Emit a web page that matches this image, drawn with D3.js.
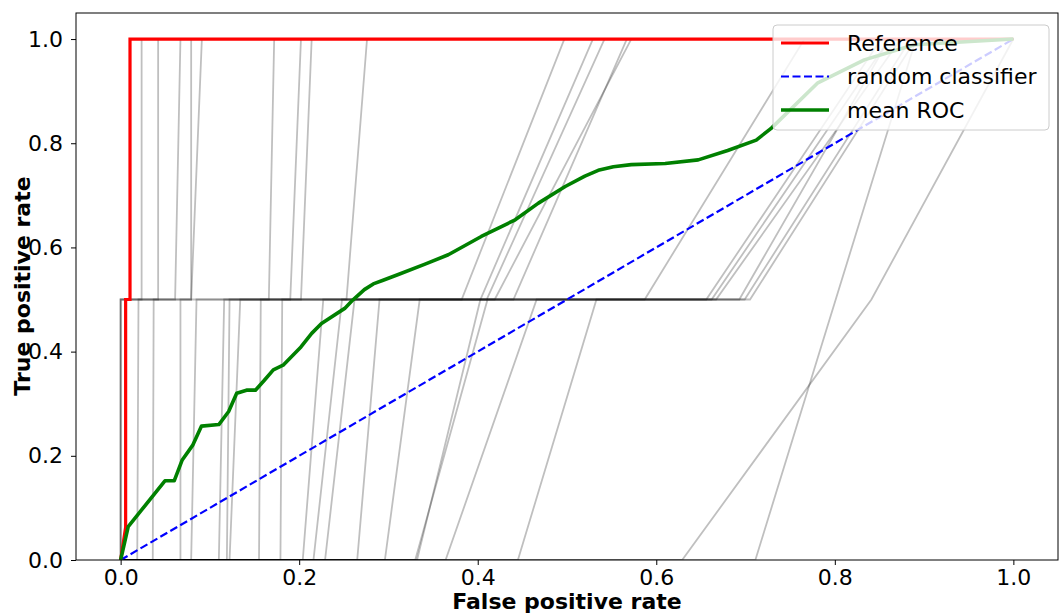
<!DOCTYPE html>
<html>
<head>
<meta charset="utf-8">
<script src="https://cdn.jsdelivr.net/npm/d3@7"></script>
<style>
  body { margin: 0; background: #fff; }
  text { font-family: "DejaVu Sans", sans-serif; }
</style>
</head>
<body>
<svg id="chart" width="1060" height="614"></svg>
<script>
// Each gray ROC curve: (0,0) -> (lowStart,0) -> (lowEnd,0.5) -> (highStart,0.5) -> (highEnd,1) -> (1,1)
const lowStart  = [0, 0, 0, 0.0186, 0.036, 0.067, 0.079, 0.110, 0.119, 0.122, 0.155, 0.179, 0.204, 0.216, 0.229, 0.265, 0.296, 0.330, 0.332, 0.364, 0.445, 0.629, 0.711];
const lowEnd    = [0, 0, 0, 0.020, 0.037, 0.067, 0.085, 0.116, 0.122, 0.134, 0.157, 0.181, 0.227, 0.248, 0.262, 0.290, 0.335, 0.411, 0.403, 0.466, 0.533, 0.841, 0.801];
const highStart = [0.061, 0.079, 0.079, 0.0235, 0.042, 0.166, 0.190, 0.202, 0.253, 0.382, 0.403, 0.410, 0.419, 0.440, 0.587, 0.656, 0.662, 0.667, 0.693, 0.699, 0.705, 0.841, 0.801];
const highEnd   = [0.067, 0.079, 0.091, 0.0235, 0.042, 0.172, 0.202, 0.214, 0.276, 0.497, 0.529, 0.542, 0.572, 0.567, 0.766, 0.852, 0.861, 0.874, 0.861, 0.885, 0.891, 1.0, 0.891];

// reference curve
const refFpr = [0, 0.0056, 0.0056, 0.0105, 0.0105, 1.0];
const refTpr = [0, 0.063, 0.5, 0.5, 1.0, 1.0];

// mean ROC
const meanFpr = [0, 0.0085, 0.0235, 0.0496, 0.060, 0.069, 0.081, 0.0906, 0.110, 0.121, 0.130, 0.141, 0.151, 0.161, 0.171, 0.182, 0.202, 0.214, 0.225, 0.251, 0.260, 0.273, 0.283, 0.294, 0.311, 0.341, 0.367, 0.404, 0.442, 0.468, 0.498, 0.520, 0.535, 0.552, 0.572, 0.610, 0.647, 0.680, 0.712, 0.729, 0.781, 0.833, 0.889, 1.0];
const meanTpr = [0, 0.064, 0.096, 0.152, 0.152, 0.192, 0.221, 0.257, 0.260, 0.285, 0.320, 0.326, 0.326, 0.345, 0.365, 0.374, 0.409, 0.435, 0.454, 0.483, 0.499, 0.519, 0.530, 0.537, 0.548, 0.568, 0.586, 0.621, 0.653, 0.685, 0.717, 0.737, 0.748, 0.755, 0.759, 0.761, 0.768, 0.786, 0.806, 0.829, 0.916, 0.960, 0.989, 1.0];

const randFpr = [0, 1];
const randTpr = [0, 1];

const xTicks = [0, 0.2, 0.4, 0.6, 0.8, 1.0];
const yTicks = [0, 0.2, 0.4, 0.6, 0.8, 1.0];
const legendLabels = ["Reference", "random classifier", "mean ROC"];

const svg = d3.select("#chart");
const margin = {left: 76, right: 2, top: 13, bottom: 54};
const W = 1060 - margin.left - margin.right;
const H = 614 - margin.top - margin.bottom;

const x = d3.scaleLinear().domain([-0.05, 1.05]).range([0, W]);
const y = d3.scaleLinear().domain([0, 1.05]).range([H, 0]);

const g = svg.append("g").attr("transform", `translate(${margin.left},${margin.top})`);

g.append("clipPath").attr("id", "clip")
  .append("rect").attr("width", W).attr("height", H);

const plot = g.append("g").attr("clip-path", "url(#clip)");
const line = d3.line().x(d => x(d[0])).y(d => y(d[1]));

const zip = (a, b) => a.map((v, i) => [v, b[i]]);

// gray curves
const grayCurves = lowStart.map((a, i) => [
  [0, 0], [a, 0], [lowEnd[i], 0.5], [highStart[i], 0.5], [highEnd[i], 1], [1, 1]
]);
plot.selectAll("path.gray").data(grayCurves).enter().append("path")
  .attr("class", "gray")
  .attr("d", line)
  .attr("fill", "none")
  .attr("stroke", "#000")
  .attr("stroke-opacity", 0.25)
  .attr("stroke-width", 1.8);

plot.append("path").attr("d", line(zip(refFpr, refTpr)))
  .attr("fill", "none").attr("stroke", "red").attr("stroke-width", 3.2);

plot.append("path").attr("d", line(zip(randFpr, randTpr)))
  .attr("fill", "none").attr("stroke", "blue").attr("stroke-width", 2.2)
  .attr("stroke-dasharray", "8,3.5");

plot.append("path").attr("d", line.curve(d3.curveLinear)(zip(meanFpr, meanTpr)))
  .attr("fill", "none").attr("stroke", "green").attr("stroke-width", 3.6)
  .attr("stroke-linejoin", "round");

// axes
const xAxis = g.append("g").attr("transform", `translate(0,${H})`)
  .call(d3.axisBottom(x).tickValues(xTicks).tickFormat(d3.format(".1f")).tickSize(5).tickSizeOuter(0).tickPadding(4));
const yAxis = g.append("g")
  .call(d3.axisLeft(y).tickValues(yTicks).tickFormat(d3.format(".1f")).tickSize(5).tickSizeOuter(0).tickPadding(8));
[xAxis, yAxis].forEach(a => {
  a.select(".domain").remove();
  a.selectAll("text").attr("font-size", 22).attr("fill", "#000").style("font-family", "DejaVu Sans");
  a.selectAll("line").attr("stroke", "#000").attr("stroke-width", 1);
});

g.append("rect").attr("width", W).attr("height", H)
  .attr("fill", "none").attr("stroke", "#000").attr("stroke-width", 1);

// axis labels
svg.append("text").attr("x", 567).attr("y", 609)
  .attr("text-anchor", "middle").attr("font-size", 22).attr("font-weight", "bold")
  .text("False positive rate");
svg.append("text").attr("transform", "translate(30,286) rotate(-90)")
  .attr("text-anchor", "middle").attr("font-size", 22).attr("font-weight", "bold")
  .text("True positive rate");

// legend
const leg = svg.append("g").attr("transform", "translate(773,25)");
leg.append("rect").attr("width", 276).attr("height", 105).attr("rx", 4)
  .attr("fill", "#fff").attr("fill-opacity", 0.8)
  .attr("stroke", "#ccc").attr("stroke-width", 1);
const legStyles = [
  {color: "red", dash: null, w: 3.2},
  {color: "blue", dash: "8,3.5", w: 2.2},
  {color: "green", dash: null, w: 3.6}
];
legendLabels.forEach((lab, i) => {
  const cy = 18 + i * 33.5;
  leg.append("line").attr("x1", 8).attr("x2", 56).attr("y1", cy).attr("y2", cy)
    .attr("stroke", legStyles[i].color).attr("stroke-width", legStyles[i].w)
    .attr("stroke-dasharray", legStyles[i].dash);
  leg.append("text").attr("x", 74).attr("y", cy).attr("dy", "0.35em")
    .attr("font-size", 22).text(lab);
});
</script>
</body>
</html>
